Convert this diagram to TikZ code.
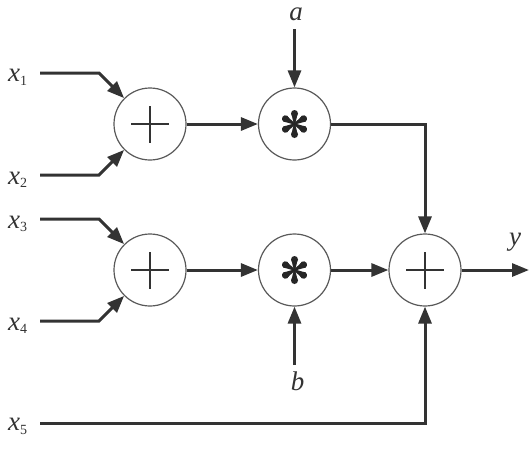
\documentclass[tikz,border=0pt]{standalone}
\usepackage{fontspec}
\setmainfont{Liberation Serif}
\usetikzlibrary{arrows.meta}
\newcommand{\lbl}[2]{{\fontsize{27}{30}\selectfont\itshape #1}\raisebox{-3.5pt}{\fontsize{14}{16}\selectfont #2}}
\newcommand{\varlbl}[1]{{\fontsize{27}{30}\selectfont\itshape #1}}
\begin{document}
\begin{tikzpicture}[x=1pt,y=-1pt,
  opnode/.style={circle,draw=black!65,line width=1.2pt,minimum size=72pt,inner sep=0pt,fill=white},
  wire/.style={draw=black!80,line width=3pt},
  arr/.style={wire,-{Triangle[length=17pt,width=13pt]}},
  txt/.style={inner sep=0pt,anchor=base,text=black!80},
  inlbl/.style={inner sep=0pt,anchor=base west,text=black!80},
  sign/.style={draw=black!80,line width=2.5pt}
]
\useasboundingbox (0,0) rectangle (529,453);
% operator nodes
\node[opnode] (add1) at (150,124) {};
\node[opnode] (mul1) at (294.5,124) {};
\node[opnode] (add2) at (150,270) {};
\node[opnode] (mul2) at (294.5,270) {};
\node[opnode] (add3) at (425,270) {};
% plus signs
\foreach \n in {add1,add2,add3}{
  \draw[sign] ([xshift=-19pt]\n.center) -- ([xshift=19pt]\n.center);
  \draw[sign] ([yshift=-18.5pt]\n.center) -- ([yshift=18.5pt]\n.center);
}
% asterisks
\foreach \n in {mul1,mul2}{
  \foreach \ang in {90,30,-30,-90,150,210}{
    \begin{scope}[shift={(\n.center)},rotate=\ang]
      \fill[black!85] (0,-0.7) -- (10.5,-3.2) -- (10.5,3.2) -- (0,0.7) -- cycle;
      \fill[black!85] (10.5,0) circle[radius=3.5];
    \end{scope}
  }
}
% labels
\node[inlbl] (lx1) at (8,81.5) {\lbl{x}{1}};
\node[inlbl] (lx2) at (8,184) {\lbl{x}{2}};
\node[inlbl] (lx3) at (8,228) {\lbl{x}{3}};
\node[inlbl] (lx4) at (8,330) {\lbl{x}{4}};
\node[inlbl] (lx5) at (8,430.5) {\lbl{x}{5}};
\node[txt] (la) at (296,20) {\varlbl{a}};
\node[txt] (lb) at (297.5,390) {\varlbl{b}};
\node[txt] (ly) at (515,245) {\varlbl{y}};
% wire end points
\coordinate (s1) at (40,73);
\coordinate (b1) at (99,73);
\coordinate (s2) at (40,175);
\coordinate (b2) at (99,175);
\coordinate (s3) at (40,219);
\coordinate (b3) at (99,219);
\coordinate (s4) at (40,321);
\coordinate (b4) at (99,321);
\coordinate (s5) at (40,423);
\coordinate (sa) at (294.5,29);
\coordinate (sb) at (294.5,365);
\coordinate (ey) at (529,270);
% connectors
\draw[arr] (s1) -- (b1) -- (add1.north west);
\draw[arr] (s2) -- (b2) -- (add1.south west);
\draw[arr] (s3) -- (b3) -- (add2.north west);
\draw[arr] (s4) -- (b4) -- (add2.south west);
\draw[arr] (add1.east) -- (mul1.west);
\draw[arr] (add2.east) -- (mul2.west);
\draw[arr] (sa) -- (mul1.north);
\draw[arr] (sb) -- (mul2.south);
\draw[arr] (mul1.east) -| (add3.north);
\draw[arr] (mul2.east) -- (add3.west);
\draw[arr] (s5) -| (add3.south);
\draw[arr] (add3.east) -- (ey);
\end{tikzpicture}
\end{document}
